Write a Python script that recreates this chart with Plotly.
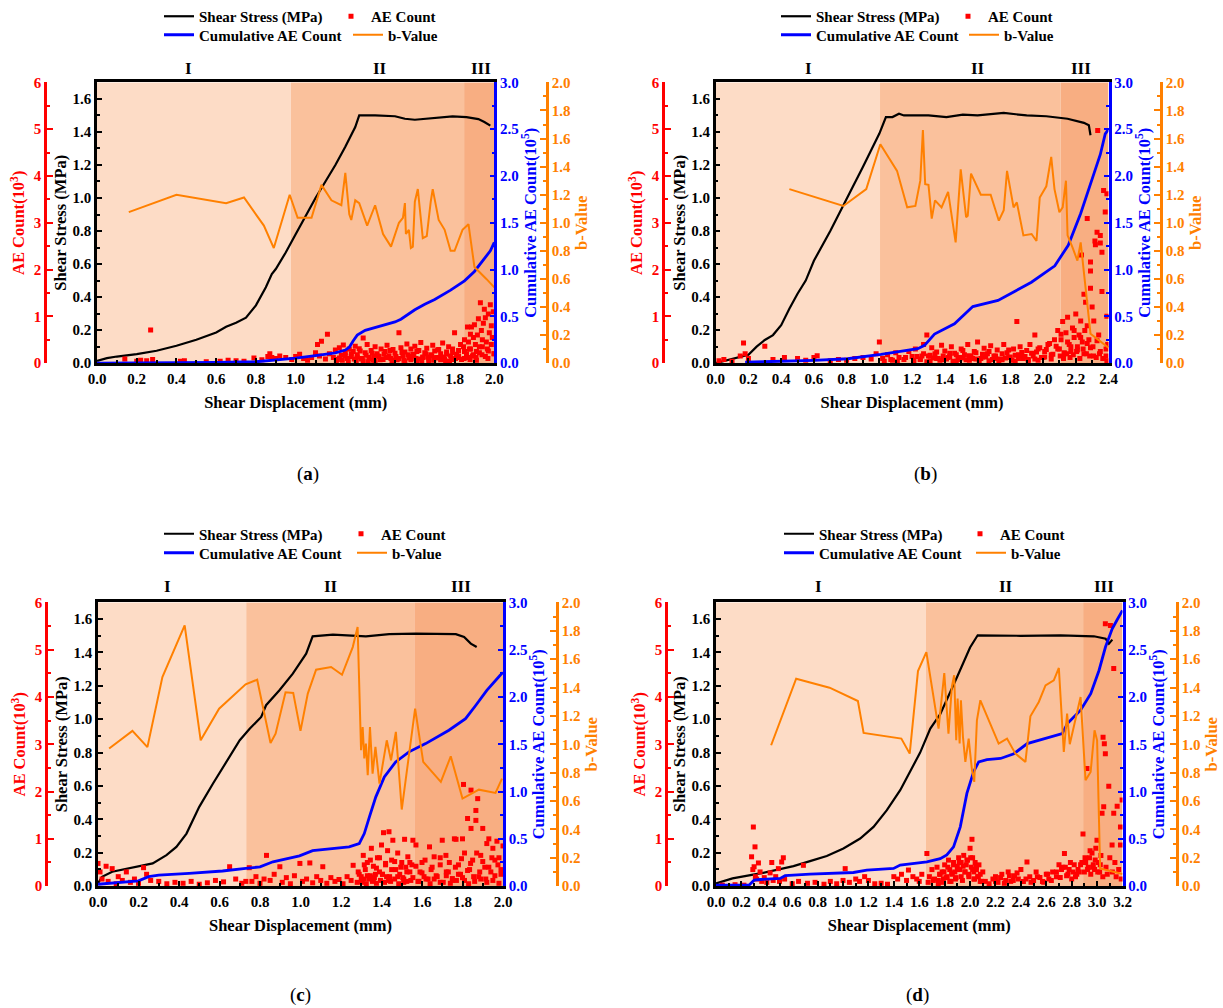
import plotly.graph_objects as go

W, H = 1223, 1008

# ---------------- DATA ----------------
# Panel (a)
a_stress_x = [0.0,0.05,0.1,0.2,0.3,0.4,0.5,0.6,0.65,0.7,0.75,0.8,0.85,0.88,0.9,0.95,1.0,1.05,1.1,1.15,1.2,1.25,1.3,1.32,1.4,1.5,1.55,1.6,1.7,1.79,1.86,1.92,1.95,1.98]
a_stress_y = [0.014,0.03,0.04,0.055,0.075,0.105,0.142,0.186,0.22,0.245,0.275,0.35,0.46,0.54,0.57,0.67,0.78,0.89,1.0,1.1,1.2,1.31,1.43,1.5,1.5,1.495,1.48,1.474,1.485,1.494,1.49,1.478,1.46,1.438]
a_cum_x = [0.0,0.3,0.6,0.8,0.9,1.0,1.1,1.2,1.25,1.27,1.29,1.31,1.35,1.4,1.45,1.5,1.53,1.57,1.6,1.65,1.7,1.78,1.85,1.9,1.93,1.96,1.98,2.0]
a_cum_y = [0.0,0.002,0.008,0.015,0.03,0.053,0.08,0.11,0.14,0.17,0.24,0.3,0.35,0.38,0.41,0.44,0.47,0.53,0.57,0.63,0.68,0.78,0.88,0.98,1.06,1.14,1.2,1.29]
a_b_x = [0.16,0.4,0.65,0.74,0.84,0.89,0.97,1.01,1.08,1.13,1.18,1.23,1.25,1.27,1.28,1.3,1.32,1.36,1.4,1.44,1.48,1.52,1.54,1.55,1.555,1.57,1.58,1.59,1.6,1.615,1.64,1.66,1.68,1.69,1.72,1.75,1.78,1.8,1.84,1.87,1.9,1.93,1.96,2.0]
a_b_y = [1.076,1.2,1.14,1.18,0.98,0.82,1.2,1.035,1.035,1.27,1.16,1.125,1.355,1.06,1.02,1.16,1.14,0.98,1.125,0.92,0.83,1.0,1.035,1.14,0.92,0.95,0.82,0.83,1.15,1.24,0.89,0.905,1.15,1.24,1.02,0.95,0.8,0.8,0.95,0.99,0.685,0.645,0.6,0.54]
a_ae_x = [0.14,0.2,0.22,0.25,0.27,0.28,0.42,0.44,0.55,0.62,0.66,0.7,0.74,0.79,0.83,0.86,0.87,0.88,0.9,0.92,0.95,
          0.98,1.0,1.02,1.04,1.06,1.08,1.1,1.11,1.12,1.13,1.15,1.16,1.17,1.19,1.2,1.21,1.22,1.23,1.24,1.25,1.26,1.27,1.28,1.29,1.3,
          1.31,1.32,1.33,1.34,1.35,1.36,1.37,1.38,1.39,1.4,1.41,1.42,1.43,1.44,1.45,1.46,1.47,1.48,1.49,1.5,1.51,1.52,1.53,1.54,1.55,1.56,1.57,1.58,1.59,1.6,1.61,1.62,1.63,1.64,1.65,1.66,1.67,1.68,1.69,1.7,1.71,1.72,1.73,1.74,1.75,1.76,1.77,1.78,1.79,1.8,1.81,1.82,1.83,
          1.305,1.335,1.365,1.395,1.425,1.455,1.485,1.515,1.545,1.575,1.605,1.635,1.665,1.695,1.725,1.755,1.785,1.815,
          1.845,1.85,1.86,1.865,1.87,1.875,1.88,1.885,1.89,1.895,1.9,1.905,1.91,1.915,1.92,1.925,1.93,1.935,1.94,1.945,1.95,1.955,1.96,1.965,1.97,1.975,1.98,1.985,1.99,1.995,
          1.848,1.878,1.908,1.938,1.968,1.998]
a_ae_y = [0.09,0.04,0.06,0.05,0.71,0.08,0.04,0.05,0.03,0.04,0.06,0.05,0.04,0.11,0.07,0.14,0.2,0.12,0.1,0.15,0.12,
          0.08,0.14,0.19,0.1,0.06,0.12,0.22,0.4,0.15,0.47,0.09,0.62,0.2,0.12,0.28,0.08,0.33,0.17,0.39,0.22,0.1,0.3,0.14,0.25,0.36,
          0.18,0.31,0.09,0.54,0.22,0.4,0.12,0.27,0.06,0.35,0.2,0.14,0.3,0.08,0.25,0.38,0.16,0.1,0.29,0.21,0.07,0.65,0.33,0.15,0.24,0.41,0.11,0.3,0.19,0.36,0.05,0.27,0.44,0.13,0.22,0.32,0.09,0.18,0.38,0.26,0.12,0.29,0.2,0.43,0.08,0.24,0.35,0.15,0.3,0.65,0.19,0.27,0.4,
          0.05,0.1,0.03,0.15,0.07,0.12,0.04,0.09,0.06,0.14,0.1,0.05,0.13,0.06,0.11,0.04,0.08,0.12,
          0.35,0.5,0.2,0.77,0.45,0.3,0.62,0.77,0.15,0.55,0.82,0.4,0.25,0.6,0.95,0.35,1.29,0.7,0.5,0.85,1.15,0.97,0.45,0.3,1.05,0.65,1.25,0.8,0.55,1.1,
          0.1,0.08,0.12,0.18,0.1,0.2]
a_ae_dense_x = [1.205,1.22,1.235,1.25,1.265,1.28,1.295,1.31,1.325,1.34,1.355,1.37,1.385,1.4,1.415,1.43,1.445,1.46,1.475,1.49,1.505,1.52,1.535,1.55,1.565,1.58,1.595,1.61,1.625,1.64,1.655,1.67,1.685,1.7,1.715,1.73,1.745,1.76,1.775,1.79,1.805,1.82,1.835,1.85,1.865,1.88,1.895,1.91,1.925,1.94,1.955,1.97,1.985,2.0]
a_ae_dense_y = [0.04,0.11,0.06,0.16,0.03,0.2,0.09,0.13,0.26,0.05,0.17,0.1,0.21,0.04,0.15,0.08,0.19,0.12,0.27,0.06,0.14,0.1,0.23,0.03,0.18,0.07,0.15,0.25,0.09,0.12,0.2,0.05,0.16,0.11,0.28,0.07,0.13,0.19,0.04,0.22,0.1,0.15,0.08,0.25,0.12,0.3,0.18,0.06,0.22,0.35,0.14,0.26,0.4,0.2]
a_stage_edges = [0.976, 1.848]

# Panel (b)
b_stress_x = [0.0,0.1,0.2,0.25,0.3,0.35,0.4,0.45,0.5,0.55,0.6,0.7,0.8,0.9,1.0,1.04,1.08,1.12,1.15,1.3,1.41,1.51,1.6,1.76,1.9,2.02,2.15,2.25,2.28,2.29]
b_stress_y = [0.0,0.026,0.05,0.1,0.14,0.17,0.23,0.33,0.42,0.5,0.62,0.8,1.0,1.19,1.39,1.49,1.49,1.51,1.5,1.5,1.49,1.505,1.5,1.515,1.5,1.495,1.48,1.455,1.44,1.38]
b_cum_x = [0.18,0.4,0.6,0.806,1.01,1.235,1.276,1.337,1.459,1.571,1.725,1.929,2.072,2.154,2.23,2.31,2.35,2.38,2.4]
b_cum_y = [0.01,0.02,0.03,0.047,0.093,0.154,0.19,0.31,0.42,0.605,0.67,0.865,1.04,1.26,1.6,2.02,2.23,2.45,2.5]
b_b_x = [0.45,0.78,0.92,1.006,1.108,1.17,1.22,1.25,1.266,1.28,1.3,1.32,1.34,1.38,1.42,1.466,1.497,1.53,1.54,1.56,1.62,1.68,1.73,1.76,1.78,1.82,1.84,1.88,1.93,1.96,1.98,2.02,2.05,2.07,2.1,2.12,2.14,2.15,2.18,2.21,2.23,2.26,2.29,2.4]
b_b_y = [1.24,1.12,1.24,1.56,1.37,1.11,1.12,1.3,1.66,1.275,1.27,1.03,1.16,1.11,1.22,0.86,1.38,1.04,1.05,1.35,1.2,1.2,1.015,1.09,1.37,1.11,1.145,0.91,0.92,0.87,1.18,1.26,1.47,1.24,1.075,1.11,1.3,0.91,0.825,0.73,0.86,0.54,0.21,0.11]
b_ae_x = [0.02,0.05,0.1,0.15,0.17,0.18,0.2,0.3,0.35,0.42,0.5,0.55,0.6,0.62,0.7,0.75,0.8,0.85,0.9,0.95,0.98,1.0,
          1.02,1.05,1.08,1.1,1.12,1.15,1.18,1.2,1.22,1.25,1.27,1.29,1.3,1.32,1.34,1.36,1.38,1.4,1.42,1.44,1.46,1.48,1.5,1.52,1.54,1.56,1.58,1.6,1.62,1.64,1.66,1.68,1.7,1.72,1.74,1.76,1.78,1.8,1.82,1.84,1.85,1.86,1.88,1.9,1.92,1.94,1.95,1.96,1.98,2.0,2.02,2.04,2.06,2.08,2.09,
          1.03,1.07,1.11,1.16,1.21,1.26,1.31,1.35,1.39,1.43,1.47,1.51,1.55,1.59,1.63,1.67,1.71,1.75,1.79,1.83,1.87,1.91,1.97,2.01,2.05,
          2.1,2.11,2.12,2.13,2.14,2.15,2.16,2.17,2.18,2.19,2.2,2.21,2.22,2.23,2.235,2.24,2.25,2.255,2.26,2.27,2.27,2.28,2.29,2.29,2.29,2.3,2.31,2.317,2.32,2.33,2.334,2.34,2.35,2.35,2.36,2.36,2.37,2.38,2.385,2.39,2.39,2.395,
          2.105,2.125,2.145,2.165,2.185,2.205,2.225,2.245,2.265,2.285,2.305,2.325,2.345,2.365,2.385]
b_ae_y = [0.05,0.08,0.04,0.15,0.43,0.2,0.1,0.36,0.08,0.12,0.1,0.06,0.12,0.16,0.05,0.08,0.06,0.1,0.12,0.09,0.2,0.45,
          0.1,0.18,0.06,0.22,0.12,0.08,0.25,0.14,0.3,0.09,0.4,0.6,0.15,0.33,0.2,0.1,0.38,0.26,0.12,0.35,0.21,0.08,0.3,0.18,0.4,0.14,0.25,0.45,0.1,0.32,0.2,0.37,0.15,0.28,0.09,0.4,0.22,0.13,0.3,0.89,0.18,0.35,0.1,0.27,0.4,0.15,0.6,0.24,0.33,0.12,0.29,0.42,0.19,0.36,0.7,
          0.04,0.08,0.03,0.12,0.06,0.15,0.05,0.1,0.07,0.14,0.04,0.11,0.06,0.09,0.13,0.05,0.1,0.07,0.12,0.04,0.16,0.08,0.06,0.13,0.09,
          0.3,0.5,0.89,0.2,0.65,0.98,0.4,0.25,0.75,0.55,1.05,0.35,0.6,0.9,2.31,0.45,1.47,0.7,1.3,3.09,0.8,0.5,1.97,2.16,1.6,1.2,0.9,2.61,2.53,2.8,4.97,0.6,2.73,2.57,2.37,1.53,3.69,3.23,0.3,3.62,1.0,0.4,
          0.15,0.1,0.2,0.12,0.18,0.25,0.1,0.3,0.2,0.15,0.35,0.12,0.2,0.1,0.15]
b_ae_dense_x = [1.21,1.23,1.25,1.27,1.29,1.31,1.33,1.35,1.37,1.39,1.41,1.43,1.45,1.47,1.49,1.51,1.53,1.55,1.57,1.59,1.61,1.63,1.65,1.67,1.69,1.71,1.73,1.75,1.77,1.79,1.81,1.83,1.85,1.87,1.89,1.91,1.93,1.95,1.97,1.99,2.01,2.03,2.05,2.07,2.09,2.11,2.13,2.15,2.17,2.19,2.21,2.23,2.25,2.27,2.29,2.31,2.33,2.35,2.37,2.39]
b_ae_dense_y = [0.05,0.14,0.08,0.2,0.03,0.17,0.11,0.24,0.06,0.15,0.09,0.21,0.04,0.18,0.12,0.27,0.07,0.16,0.1,0.22,0.05,0.19,0.13,0.25,0.08,0.15,0.03,0.2,0.11,0.28,0.06,0.17,0.1,0.23,0.14,0.05,0.21,0.09,0.3,0.12,0.25,0.4,0.18,0.5,0.3,0.62,0.22,0.45,0.35,0.7,0.28,0.55,0.2,0.42,0.33,0.15,0.48,0.25,0.1,0.05]
b_stage_edges = [1.004, 2.108]

# Panel (c)
c_stress_x = [0.0,0.02,0.07,0.2,0.27,0.338,0.387,0.437,0.5,0.568,0.634,0.7,0.75,0.806,0.83,0.896,0.962,1.028,1.06,1.16,1.323,1.438,1.57,1.767,1.808,1.841,1.87]
c_stress_y = [0.016,0.056,0.086,0.116,0.136,0.186,0.235,0.315,0.475,0.615,0.745,0.874,0.944,1.014,1.084,1.174,1.273,1.393,1.497,1.507,1.497,1.51,1.513,1.51,1.493,1.453,1.433]
c_cum_x = [0.0,0.2,0.25,0.3,0.45,0.615,0.73,0.8,0.864,0.93,0.995,1.06,1.16,1.24,1.29,1.315,1.34,1.372,1.414,1.47,1.536,1.618,1.733,1.815,1.865,1.92,1.986,2.0]
c_cum_y = [0.02,0.056,0.1,0.116,0.134,0.16,0.187,0.204,0.257,0.29,0.32,0.375,0.4,0.415,0.45,0.556,0.73,0.944,1.155,1.313,1.42,1.507,1.648,1.77,1.91,2.07,2.23,2.26]
c_b_x = [0.055,0.17,0.244,0.318,0.428,0.507,0.598,0.729,0.786,0.852,0.877,0.926,0.964,1.0,1.036,1.077,1.151,1.205,1.258,1.282,1.299,1.307,1.315,1.323,1.332,1.343,1.356,1.37,1.39,1.426,1.447,1.471,1.5,1.566,1.606,1.652,1.693,1.742,1.8,1.881,1.963,1.995]
c_b_y = [0.97,1.094,0.98,1.474,1.838,1.028,1.251,1.423,1.455,1.009,1.075,1.366,1.362,1.094,1.357,1.526,1.545,1.49,1.685,1.826,0.958,1.122,0.9,1.005,0.782,1.122,0.793,0.981,0.723,1.028,0.887,1.087,0.54,1.251,0.876,0.805,0.735,0.915,0.617,0.68,0.657,0.758]
c_ae_x = [0.0,0.01,0.02,0.04,0.05,0.07,0.09,0.1,0.12,0.14,0.16,0.18,0.2,0.225,0.24,0.26,0.3,0.34,0.38,0.42,0.46,0.5,0.54,0.58,0.62,0.65,0.68,0.71,0.73,
          0.747,0.76,0.78,0.8,0.82,0.832,0.85,0.87,0.898,0.91,0.93,0.95,0.97,0.997,1.01,1.03,1.046,1.06,1.08,1.1,1.11,1.13,1.15,1.17,1.19,1.21,1.23,1.25,1.26,1.28,1.29,
          1.3,1.31,1.32,1.33,1.34,1.35,1.36,1.37,1.38,1.39,1.4,1.41,1.42,1.43,1.437,1.44,1.45,1.456,1.47,1.48,1.49,1.5,1.51,1.514,1.52,1.53,1.54,1.55,1.555,
          1.305,1.315,1.325,1.345,1.355,1.365,1.375,1.395,1.405,1.415,1.425,1.445,1.465,1.485,1.505,1.525,1.545,
          1.57,1.59,1.6,1.62,1.637,1.65,1.67,1.69,1.7,1.718,1.73,1.75,1.76,1.768,1.78,1.79,1.8,1.805,1.81,1.825,1.835,1.842,1.842,1.85,1.866,1.866,1.875,1.88,1.89,1.9,1.91,1.92,1.93,1.94,1.95,1.96,1.97,1.98,1.99,2.0,
          1.58,1.61,1.64,1.66,1.69,1.72,1.74,1.77,1.8,1.83,1.86,1.89,1.92,1.95,1.98]
c_ae_y = [0.48,0.3,0.15,0.42,0.1,0.37,0.05,0.2,0.12,0.3,0.08,0.15,0.06,0.39,0.25,0.12,0.1,0.05,0.08,0.06,0.1,0.04,0.07,0.12,0.09,0.41,0.15,0.06,0.1,
          0.39,0.1,0.2,0.06,0.15,0.65,0.12,0.25,0.41,0.08,0.18,0.05,0.22,0.48,0.1,0.15,0.49,0.07,0.2,0.12,0.41,0.06,0.18,0.1,0.14,0.05,0.2,0.12,0.44,0.08,0.25,
          0.2,0.65,0.35,0.5,0.15,0.8,0.42,0.25,0.6,0.3,0.87,1.13,0.45,0.75,1.15,0.2,0.55,0.97,0.35,0.7,0.25,0.5,0.15,0.99,0.4,0.62,0.3,0.45,0.97,
          0.08,0.15,0.05,0.22,0.1,0.18,0.06,0.12,0.25,0.08,0.2,0.1,0.15,0.05,0.18,0.1,0.12,
          0.87,0.3,0.5,0.15,0.83,0.4,0.22,0.6,0.97,0.65,0.3,0.12,1.0,0.99,0.45,0.25,1.0,2.15,0.7,1.43,0.35,2.03,1.22,0.55,1.6,1.39,1.85,0.2,0.65,1.22,0.4,0.9,1.0,0.3,0.8,0.55,0.95,0.6,0.25,0.85,
          0.1,0.2,0.05,0.15,0.08,0.22,0.06,0.12,0.18,0.05,0.1,0.15,0.08,0.12,0.06]
c_ae_dense_x = [1.285,1.3,1.315,1.33,1.345,1.36,1.375,1.39,1.405,1.42,1.435,1.45,1.465,1.48,1.495,1.51,1.525,1.54,1.555,1.57,1.585,1.6,1.615,1.63,1.645,1.66,1.675,1.69,1.705,1.72,1.735,1.75,1.765,1.78,1.795,1.81,1.825,1.84,1.855,1.87,1.885,1.9,1.915,1.93,1.945,1.96,1.975,1.99]
c_ae_dense_y = [0.3,0.1,0.45,0.22,0.55,0.15,0.38,0.6,0.25,0.48,0.12,0.35,0.52,0.2,0.4,0.08,0.3,0.5,0.18,0.42,0.1,0.28,0.55,0.15,0.35,0.62,0.2,0.45,0.08,0.3,0.5,0.16,0.4,0.25,0.58,0.12,0.33,0.48,0.2,0.7,0.3,0.52,0.15,0.4,0.6,0.22,0.45,0.35]
c_stage_edges = [0.732, 1.562]

# Panel (d)
d_stress_x = [0.0,0.13,0.347,0.61,0.74,0.872,1.003,1.135,1.24,1.345,1.45,1.542,1.607,1.687,1.765,1.896,2.0,2.06,2.397,2.712,2.975,3.067,3.093,3.12]
d_stress_y = [0.016,0.046,0.076,0.12,0.15,0.18,0.226,0.285,0.355,0.455,0.575,0.705,0.8,0.944,1.03,1.25,1.43,1.503,1.5,1.503,1.497,1.483,1.453,1.477]
d_cum_x = [0.0,0.26,0.3,0.347,0.505,0.544,0.74,1.082,1.187,1.398,1.45,1.66,1.765,1.817,1.87,1.923,1.975,2.028,2.068,2.133,2.24,2.345,2.45,2.555,2.726,2.766,2.87,2.95,3.015,3.066,3.119,3.158,3.2]
d_cum_y = [0.01,0.01,0.063,0.07,0.081,0.11,0.127,0.144,0.169,0.187,0.222,0.257,0.29,0.33,0.415,0.627,0.98,1.21,1.313,1.338,1.35,1.4,1.507,1.55,1.613,1.718,1.86,2.035,2.28,2.528,2.72,2.817,2.916]
d_b_x = [0.434,0.631,0.894,1.117,1.162,1.459,1.525,1.59,1.656,1.752,1.797,1.83,1.857,1.875,1.891,1.902,1.918,1.928,1.944,1.963,1.989,2.015,2.033,2.054,2.081,2.225,2.291,2.357,2.436,2.475,2.541,2.594,2.659,2.699,2.738,2.764,2.785,2.87,2.909,2.949,2.98,3.0,3.024,3.2]
d_b_y = [0.993,1.462,1.399,1.305,1.08,1.04,0.934,1.516,1.65,1.11,1.502,1.075,1.408,1.486,1.028,1.322,1.005,1.31,1.052,0.876,1.04,0.817,0.735,1.169,1.31,1.005,1.04,0.934,0.876,1.197,1.298,1.415,1.451,1.538,0.946,1.216,1.0,1.333,0.746,0.805,1.099,1.028,0.124,0.085]
d_ae_x = [0.05,0.15,0.22,
          0.28,0.29,0.294,0.3,0.307,0.31,0.32,0.334,0.347,0.36,0.38,0.4,0.426,0.439,0.45,0.47,0.491,0.5,0.517,0.53,0.54,
          0.6,0.65,0.688,0.72,0.78,0.85,0.9,0.95,1.0,1.017,1.05,1.1,1.13,1.17,1.2,1.25,1.3,1.35,1.4,1.43,1.46,1.5,1.515,1.55,1.58,1.6,1.62,
          1.66,1.68,1.7,1.72,1.74,1.76,1.78,1.8,1.82,1.83,1.84,1.86,1.87,1.88,1.9,1.91,1.92,1.93,1.95,1.96,1.97,1.98,2.0,2.01,2.015,2.02,2.03,2.04,2.05,2.06,2.07,2.08,2.1,
          1.67,1.71,1.75,1.79,1.85,1.89,1.94,1.99,2.03,2.09,
          2.12,2.15,2.18,2.2,2.22,2.25,2.28,2.3,2.32,2.35,2.38,2.4,2.42,2.448,2.47,2.5,2.52,2.55,2.58,2.6,2.62,2.65,2.68,2.7,2.72,2.743,2.75,2.77,2.79,2.81,2.83,2.85,2.87,2.889,
          2.9,2.91,2.92,2.93,2.94,2.95,2.96,2.97,2.98,2.99,2.999,3.01,3.02,3.03,3.039,3.047,3.052,3.057,3.065,3.065,3.07,3.08,3.092,3.1,3.105,3.118,3.12,3.131,3.131,3.14,3.15,3.158,3.17,3.184,3.184,3.19,3.197]
d_ae_y = [0.02,0.03,0.02,
          0.62,0.35,1.25,0.41,0.83,0.2,0.15,0.49,0.3,0.1,0.18,0.08,0.28,0.5,0.12,0.2,0.37,0.1,0.51,0.6,0.15,
          0.05,0.1,0.44,0.06,0.08,0.04,0.1,0.05,0.12,0.37,0.08,0.15,0.1,0.2,0.12,0.05,0.06,0.04,0.2,0.15,0.25,0.12,0.34,0.2,0.15,0.1,0.25,
          0.69,0.2,0.35,0.15,0.4,0.25,0.3,0.45,0.2,0.55,0.35,0.25,0.5,0.3,0.42,0.6,0.35,0.5,0.65,0.3,0.45,0.55,0.8,0.4,0.99,0.6,0.3,0.5,0.35,0.2,0.45,0.25,0.3,
          0.08,0.12,0.05,0.15,0.1,0.18,0.12,0.2,0.15,0.1,
          0.1,0.05,0.15,0.2,0.08,0.25,0.12,0.3,0.1,0.22,0.15,0.35,0.1,0.51,0.2,0.12,0.3,0.18,0.08,0.25,0.15,0.3,0.2,0.45,0.35,0.69,0.4,0.25,0.5,0.3,0.2,0.35,0.45,1.1,
          0.3,0.5,2.49,0.4,0.6,0.25,0.7,0.45,0.35,0.8,0.97,0.5,0.3,0.65,1.54,3.15,1.68,3.01,2.8,5.55,0.4,0.25,2.11,0.6,5.51,0.87,0.3,4.6,1.54,0.5,0.2,1.69,0.35,1.25,0.87,0.15,1.82]
d_ae_dense_x = [1.75,1.765,1.78,1.795,1.81,1.825,1.84,1.855,1.87,1.885,1.9,1.915,1.93,1.945,1.96,1.975,1.99,2.005,2.02,2.035,2.05,2.065,2.08,
                2.2,2.24,2.27,2.31,2.34,2.37,2.44,2.48,2.53,2.57,2.61,2.64,2.68,2.71,2.73,2.76,2.78,2.8,2.82,2.84,2.86,2.88,2.905,2.925,2.945,2.965,2.985,3.005,3.025,3.045]
d_ae_dense_y = [0.12,0.25,0.08,0.3,0.18,0.4,0.1,0.28,0.45,0.15,0.35,0.5,0.2,0.42,0.3,0.55,0.25,0.6,0.35,0.15,0.4,0.2,0.1,
                0.1,0.18,0.06,0.22,0.12,0.28,0.15,0.08,0.2,0.1,0.25,0.12,0.3,0.18,0.4,0.22,0.35,0.15,0.45,0.25,0.3,0.5,0.6,0.35,0.75,0.4,0.55,0.3,0.45,0.2]
d_stage_edges = [1.652, 2.89]

series_names = ["Shear Stress (MPa)", "AE Count", "Cumulative AE Count", "b-Value"]
stage_labels = ["I", "II", "III"]
captions = ["a", "b", "c", "d"]

# ---------------- STYLE / LAYOUT ----------------
FONT = "Liberation Serif"
RED, BLUE, ORANGE, BLACK = "#FF0000", "#0000FF", "#FF8000", "#000000"
STAGE_COLORS = ["#FDDCC6", "#FAC19C", "#F8AE82"]
TICK_SIZE = 15
TITLE_SIZE = 16.5
LEGEND_SIZE = 15

def px(x):
    return x / W

def py(y):
    return 1 - y / H

panels = [
    dict(data=(a_stress_x, a_stress_y, a_ae_x + a_ae_dense_x, a_ae_y + a_ae_dense_y, a_cum_x, a_cum_y, a_b_x, a_b_y),
         edges=a_stage_edges, xmax=2.0,
         box=(97, 494.3, 81.5, 362.5), red=45, orange=547, labels=(188, 380, 481), label_y=68,
         cap=(308, 473), leg=[(159, 16), (331, 16), (159, 35), (348, 35)]),
    dict(data=(b_stress_x, b_stress_y, b_ae_x + b_ae_dense_x, b_ae_y + b_ae_dense_y, b_cum_x, b_cum_y, b_b_x, b_b_y),
         edges=b_stage_edges, xmax=2.4,
         box=(715.7, 1108.5, 81.5, 362.5), red=663, orange=1161, labels=(808, 978, 1081), label_y=68,
         cap=(925, 473), leg=[(776, 16), (948, 16), (776, 35), (964, 35)]),
    dict(data=(c_stress_x, c_stress_y, c_ae_x + c_ae_dense_x, c_ae_y + c_ae_dense_y, c_cum_x, c_cum_y, c_b_x, c_b_y),
         edges=c_stage_edges, xmax=2.0,
         box=(98, 503, 602, 886), red=46, orange=557, labels=(168, 331, 461), label_y=586,
         cap=(300, 995), leg=[(159, 534), (341, 534), (159, 553), (352, 553)]),
    dict(data=(d_stress_x, d_stress_y, d_ae_x + d_ae_dense_x, d_ae_y + d_ae_dense_y, d_cum_x, d_cum_y, d_b_x, d_b_y),
         edges=d_stage_edges, xmax=3.2,
         box=(716, 1122.5, 602, 886), red=666, orange=1177, labels=(818, 1006, 1104), label_y=586,
         cap=(917, 995), leg=[(779, 534), (960, 534), (779, 553), (971, 553)]),
]

def yname(n):
    return "y" if n == 1 else f"y{n}"

def ykey(n):
    return "yaxis" if n == 1 else f"yaxis{n}"

def lname(n):
    return "legend" if n == 1 else f"legend{n}"

fig = go.Figure()
layout = dict(width=W, height=H, margin=dict(l=0, r=0, t=0, b=0), autosize=False,
              paper_bgcolor="white", plot_bgcolor="rgba(0,0,0,0)", template="none",
              font=dict(family=FONT, size=14, color="black", weight="bold"), showlegend=True)
shapes, annotations = [], []

tickfont = lambda c: dict(family=FONT, size=TICK_SIZE, color=c, weight="bold")
titlefont = lambda c: dict(family=FONT, size=TITLE_SIZE, color=c, weight="bold")

for i, p in enumerate(panels):
    sx, sy, ex, ey, cx, cy, bx, by = p["data"]
    x0, x1, yt, yb = p["box"]
    xid = "x" if i == 0 else f"x{i+1}"
    xk = "xaxis" if i == 0 else f"xaxis{i+1}"
    s, r, c, b = 4*i+1, 4*i+2, 4*i+3, 4*i+4
    dom_x = [px(x0), px(x1)]
    dom_y = [py(yb), py(yt)]

    layout[xk] = dict(domain=dom_x, anchor=yname(s), range=[0, p["xmax"]], showline=True, linecolor=BLACK,
                      linewidth=2.5, mirror=True, ticks="inside", ticklen=5, tickwidth=2, tickcolor=BLACK,
                      dtick=0.2, tick0=0, tickformat=".1f", showgrid=False, zeroline=False,
                      minor=dict(dtick=0.1, ticks="inside", ticklen=3, tickwidth=1.5, tickcolor=BLACK),
                      tickfont=tickfont(BLACK), automargin=False,
                      title=dict(text="Shear Displacement (mm)", font=titlefont(BLACK), standoff=11))
    layout[ykey(s)] = dict(domain=dom_y, anchor=xid, range=[0, 1.7], showline=True, linecolor=BLACK, linewidth=2.5,
                           ticks="inside", ticklen=5, tickwidth=2, tickcolor=BLACK, dtick=0.2, tick0=0, tickformat=".1f",
                           minor=dict(dtick=0.1, ticks="inside", ticklen=3, tickwidth=1.5, tickcolor=BLACK),
                           showgrid=False, zeroline=False, tickfont=tickfont(BLACK), automargin=False,
                           title=dict(text="Shear Stress (MPa)", font=titlefont(BLACK), standoff=2))
    layout[ykey(r)] = dict(overlaying=yname(s), anchor="free", position=px(p["red"]), side="left", range=[0, 6],
                           showline=True, linecolor=RED, linewidth=2.5, ticks="inside", ticklen=6, tickwidth=2,
                           tickcolor=RED, dtick=1, tick0=0,
                           minor=dict(dtick=0.5, ticks="inside", ticklen=3, tickwidth=1.5, tickcolor=RED),
                           showgrid=False, zeroline=False, tickfont=tickfont(RED), automargin=False,
                           title=dict(text="AE Count(10<sup>3</sup>)", font=titlefont(RED), standoff=3))
    layout[ykey(c)] = dict(overlaying=yname(s), anchor=xid, side="right", range=[0, 3],
                           showline=True, linecolor=BLUE, linewidth=2.5, ticks="inside", ticklen=5, tickwidth=2,
                           tickcolor=BLUE, dtick=0.5, tick0=0, tickformat=".1f",
                           minor=dict(dtick=0.25, ticks="inside", ticklen=3, tickwidth=1.5, tickcolor=BLUE),
                           showgrid=False, zeroline=False, tickfont=tickfont(BLUE), automargin=False,
                           title=dict(text="Cumulative AE Count(10<sup>5</sup>)", font=titlefont(BLUE), standoff=4))
    layout[ykey(b)] = dict(overlaying=yname(s), anchor="free", position=px(p["orange"]), side="right", range=[0, 2],
                           showline=True, linecolor=ORANGE, linewidth=2.5, ticks="inside", ticklen=6, tickwidth=2,
                           tickcolor=ORANGE, dtick=0.2, tick0=0, tickformat=".1f",
                           minor=dict(dtick=0.1, ticks="inside", ticklen=3, tickwidth=1.5, tickcolor=ORANGE),
                           showgrid=False, zeroline=False, tickfont=tickfont(ORANGE), automargin=False,
                           title=dict(text="b-Value", font=titlefont(ORANGE), standoff=5))

    # stage shading
    bounds = [0] + list(p["edges"]) + [p["xmax"]]
    for k in range(3):
        shapes.append(dict(type="rect", xref=xid, yref=f"{yname(s)} domain", x0=bounds[k], x1=bounds[k+1],
                           y0=0, y1=1, fillcolor=STAGE_COLORS[k], line=dict(width=0), layer="below"))
    for k, lx in enumerate(p["labels"]):
        annotations.append(dict(text=stage_labels[k], xref="paper", yref="paper", x=px(lx), y=py(p["label_y"]),
                                xanchor="center", yanchor="middle", showarrow=False,
                                font=dict(family=FONT, size=17, color=BLACK, weight="bold")))
    annotations.append(dict(text=f"(<b>{captions[i]}</b>)", xref="paper", yref="paper", x=px(p["cap"][0]),
                            y=py(p["cap"][1]), xanchor="center", yanchor="middle", showarrow=False,
                            font=dict(family=FONT, size=19, color=BLACK, weight="normal")))

    L = [4*i + j + 1 for j in range(4)]
    fig.add_trace(go.Scatter(x=sx, y=sy, xaxis=xid, yaxis=yname(s), mode="lines", name=series_names[0],
                             line=dict(color=BLACK, width=2.2), legend=lname(L[0])))
    fig.add_trace(go.Scatter(x=ex, y=ey, xaxis=xid, yaxis=yname(r), mode="markers", name=series_names[1],
                             marker=dict(symbol="square", size=5, color=RED, line=dict(width=0)), legend=lname(L[1])))
    fig.add_trace(go.Scatter(x=cx, y=cy, xaxis=xid, yaxis=yname(c), mode="lines", name=series_names[2],
                             line=dict(color=BLUE, width=2.8), legend=lname(L[2])))
    fig.add_trace(go.Scatter(x=bx, y=by, xaxis=xid, yaxis=yname(b), mode="lines", name=series_names[3],
                             line=dict(color=ORANGE, width=2), legend=lname(L[3])))
    for j in range(4):
        lx, ly = p["leg"][j]
        layout[lname(L[j])] = dict(x=px(lx), y=py(ly), xanchor="left", yanchor="middle", orientation="h",
                                   bgcolor="rgba(0,0,0,0)", borderwidth=0, itemwidth=30,
                                   font=dict(family=FONT, size=LEGEND_SIZE, color=BLACK, weight="bold"))

layout["shapes"] = shapes
layout["annotations"] = annotations
fig.update_layout(**layout)

fig.write_html("out.html", config={"displayModeBar": False},
               post_script="document.body.style.margin='0px';")
